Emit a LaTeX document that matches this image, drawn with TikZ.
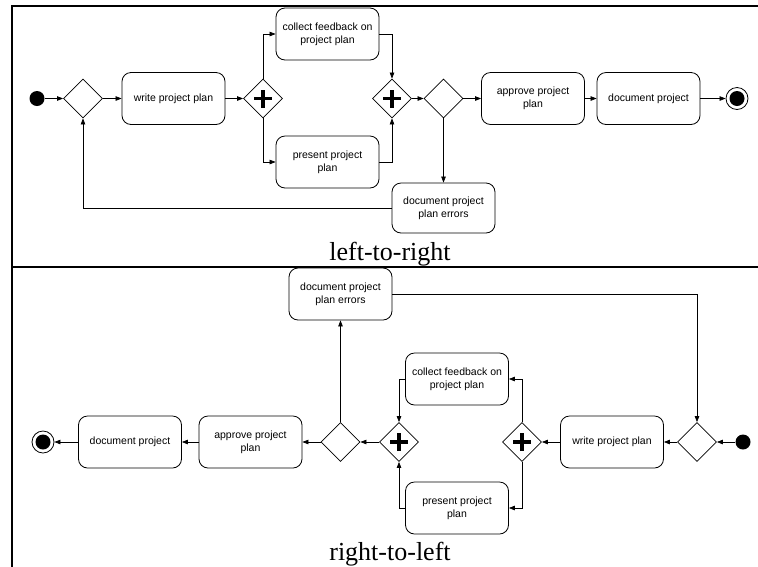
\documentclass[tikz,border=0pt]{standalone}
\usepackage{fontspec}
\setmainfont{Liberation Serif}
\newfontfamily\actsans{Liberation Sans}
\usetikzlibrary{shapes.geometric,arrows.meta}
\tikzset{
  act/.style={draw, rounded corners=9pt, minimum width=103pt, minimum height=52pt,
    align=center, font=\actsans\fontsize{10.5}{13}\selectfont, inner sep=2pt, line width=0.8pt},
  gw/.style={draw, diamond, minimum width=39pt, minimum height=39pt, inner sep=0pt, line width=0.8pt},
  startdot/.style={circle, fill=black, minimum size=15pt, inner sep=0pt},
  enddot/.style={circle, draw, line width=0.8pt, minimum size=22pt, inner sep=0pt},
  arr/.style={-{Triangle[length=6pt,width=4.5pt]}, line width=0.7pt},
  plusline/.style={line width=3.6pt},
  frameline/.style={line width=2pt},
  caption/.style={font=\fontsize{26}{30}\selectfont, anchor=base, inner sep=0pt}
}
\newcommand{\plusmark}[1]{\draw[plusline] ([xshift=-9pt]#1.center) -- ([xshift=9pt]#1.center)
  ([yshift=-9pt]#1.center) -- ([yshift=9pt]#1.center);}
\begin{document}
\begin{tikzpicture}[x=1pt,y=-1pt]
\useasboundingbox (0,0) rectangle (758,566);
% frame
\draw[frameline] (762,6) -- (12,6) -- (12,570);
\draw[frameline] (12,267) -- (762,267);

% ---------- top: left-to-right ----------
\node[startdot] (s1) at (37,98.5) {};
\node[gw] (d1) at (83,98.5) {};
\node[act] (w1) at (173.5,98.5) {write project plan};
\node[gw] (f1) at (263,98.5) {};
\plusmark{f1}
\node[act] (c1) at (327.5,34) {collect feedback on\\project plan};
\node[act] (p1) at (327.5,162) {present project\\plan};
\node[gw] (j1) at (392,98.5) {};
\plusmark{j1}
\node[gw] (d2) at (443.5,98.5) {};
\node[act] (a1) at (533,98.5) {approve project\\plan};
\node[act] (dp1) at (648.5,98.5) {document project};
\node[enddot] (e1) at (737,98.5) {};
\fill (e1.center) circle (7.5pt);
\node[act, minimum height=50pt] (er1) at (443.5,208) {document project\\plan errors};

\draw[arr] (s1) -- (d1);
\draw[arr] (d1) -- (w1);
\draw[arr] (w1) -- (f1);
\draw[arr] (f1.north) |- (c1.west);
\draw[arr] (f1.south) |- (p1.west);
\draw[arr] (c1.east) -| (j1.north);
\draw[arr] (p1.east) -| (j1.south);
\draw[arr] (j1) -- (d2);
\draw[arr] (d2) -- (a1);
\draw[arr] (a1) -- (dp1);
\draw[arr] (dp1) -- (e1);
\draw[arr] (d2.south) -- (er1.north);
\draw[arr] (er1.west) -| (d1.south);

\node[caption] (cap1) at (390,260) {left-to-right};

% ---------- bottom: right-to-left ----------
\node[startdot] (s2) at (743,442) {};
\node[gw] (d3) at (697,442) {};
\node[act] (w2) at (612,442) {write project plan};
\node[gw] (f2) at (522,442) {};
\plusmark{f2}
\node[act] (c2) at (457,379) {collect feedback on\\project plan};
\node[act] (p2) at (457,508) {present project\\plan};
\node[gw] (j2) at (399,442) {};
\plusmark{j2}
\node[gw] (d4) at (340.5,442) {};
\node[act] (a2) at (250.5,442) {approve project\\plan};
\node[act] (dp2) at (130,442) {document project};
\node[enddot] (e2) at (43,442) {};
\fill (e2.center) circle (7.5pt);
\node[act] (er2) at (340.5,294) {document project\\plan errors};

\draw[arr] (s2) -- (d3);
\draw[arr] (d3) -- (w2);
\draw[arr] (w2) -- (f2);
\draw[arr] (f2.north) |- (c2.east);
\draw[arr] (f2.south) |- (p2.east);
\draw[arr] (c2.west) -| (j2.north);
\draw[arr] (p2.west) -| (j2.south);
\draw[arr] (j2) -- (d4);
\draw[arr] (d4) -- (a2);
\draw[arr] (a2) -- (dp2);
\draw[arr] (dp2) -- (e2);
\draw[arr] (d4.north) -- (er2.south);
\draw[arr] (er2.east) -| (d3.north);

\node[caption] (cap2) at (390,560) {right-to-left};
\end{tikzpicture}
\end{document}
